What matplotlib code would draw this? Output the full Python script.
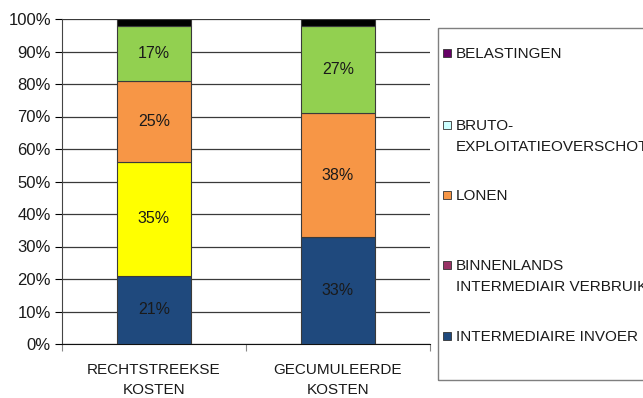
import numpy as np
import matplotlib.pyplot as plt
from matplotlib.patches import Rectangle

plt.rcParams['font.family'] = ['Liberation Sans', 'DejaVu Sans']

categories = ['RECHTSTREEKSE\nKOSTEN', 'GECUMULEERDE\nKOSTEN']
series = ['INTERMEDIAIRE INVOER', 'BINNENLANDS\nINTERMEDIAIR VERBRUIK', 'LONEN',
          'BRUTO-\nEXPLOITATIEOVERSCHOT', 'BELASTINGEN']
values = {
    'INTERMEDIAIRE INVOER': [21, 33],
    'BINNENLANDS\nINTERMEDIAIR VERBRUIK': [35, 0],
    'LONEN': [25, 38],
    'BRUTO-\nEXPLOITATIEOVERSCHOT': [17, 27],
    'BELASTINGEN': [2, 2],
}
bar_colors = ['#1F497D', '#FFFF00', '#F79646', '#92D050', '#000000']
legend_colors = ['#1F497D', '#993366', '#F79646', '#CCFFFF', '#660066']

W, H = 643, 398
fig = plt.figure(figsize=(W / 100, H / 100), dpi=100)
ax = fig.add_axes([62 / W, 1 - 344 / H, (430 - 62) / W, (344 - 19) / H])

x = np.arange(len(categories))
bottom = np.zeros(len(categories))
for name, col in zip(series, bar_colors):
    v = np.array(values[name], dtype=float)
    ax.bar(x, v, 0.4, bottom=bottom, color=col, edgecolor='#3a3a3a', linewidth=0.8, zorder=3)
    if name != 'BELASTINGEN':
        for xi, vi, bi in zip(x, v, bottom):
            if vi > 0:
                ax.text(xi, bi + vi / 2, f'{vi:.0f}%', ha='center', va='center',
                        fontsize=11.5, color='#1a1a1a', zorder=4)
    bottom += v

ax.set_xlim(-0.5, 1.5)
ax.set_ylim(0, 100)
ax.set_yticks(np.arange(0, 101, 10))
ax.set_yticklabels([f'{t}%' for t in range(0, 101, 10)], fontsize=12, color='#1a1a1a')
ax.yaxis.grid(True, color='#3a3a3a', linewidth=0.9, zorder=0)
ax.tick_params(axis='y', direction='out', length=5, width=0.8, pad=3)

ax.set_xticks(x)
ax.set_xticklabels(categories, fontsize=11, color='#1a1a1a', linespacing=1.55)
ax.tick_params(axis='x', length=0, pad=14)
ax.set_xticks([-0.5, 0.5, 1.5], minor=True)
ax.tick_params(axis='x', which='minor', direction='out', length=5, width=0.8, color='#888888')

for side in ['top', 'right']:
    ax.spines[side].set_visible(False)
ax.spines['left'].set_color('#444444')
ax.spines['bottom'].set_color('#111111')

# legend box drawn in figure pixels
fig.patches.append(Rectangle((438 / W, 1 - 380 / H), 220 / W, (380 - 28) / H,
                             transform=fig.transFigure, fill=False,
                             edgecolor='#7f7f7f', linewidth=1.0))
legend_y = [336, 265, 195, 125, 53]
for name, col, yy in zip(series, legend_colors, legend_y):
    fig.patches.append(Rectangle((443 / W, 1 - (yy + 4) / H), 8 / W, 8 / H,
                                 transform=fig.transFigure, facecolor=col,
                                 edgecolor='#333333', linewidth=0.6))
    fig.text(456 / W, 1 - (yy - 6) / H, name, ha='left', va='top',
             fontsize=11, color='#1a1a1a', linespacing=1.6)

fig.savefig('out.png', dpi=100)
